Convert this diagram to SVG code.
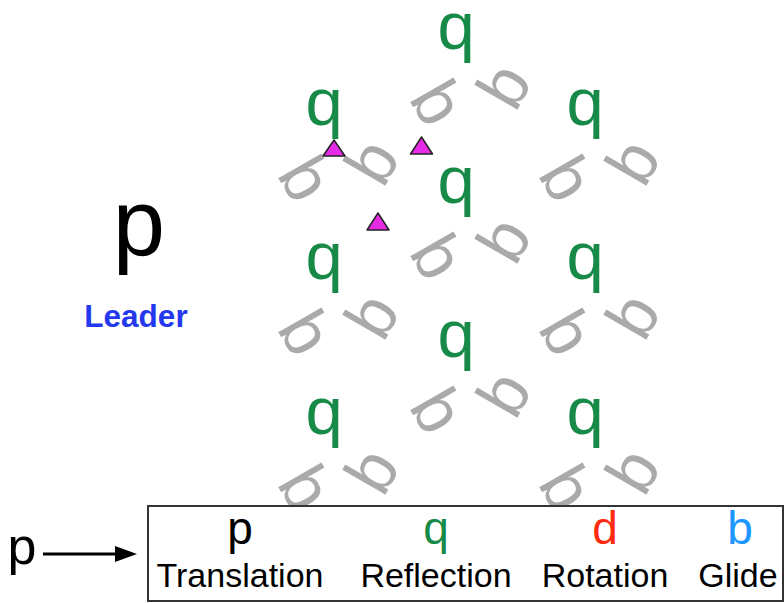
<svg xmlns="http://www.w3.org/2000/svg" width="784" height="603" viewBox="0 0 784 603">
  <defs>
    <style>
      .g { font-family: "Liberation Sans", Arial, sans-serif; font-size: 67px; text-anchor: middle; }
      .green { fill: #178a48; }
      .gray { fill: #aaaaaa; }
      .tri { fill: #e62be6; stroke: #222222; stroke-width: 1.5; stroke-linejoin: round; }
      .word { font-family: "Liberation Sans", Arial, sans-serif; font-size: 34px; text-anchor: middle; fill: #000000; }
      .sym { font-family: "Liberation Sans", Arial, sans-serif; font-size: 46px; text-anchor: middle; }
    </style>
  </defs>
  <rect width="784" height="603" fill="#ffffff"/>

  <g id="leader">
    <text x="139" y="255" font-family="Liberation Sans, Arial, sans-serif" font-size="94" text-anchor="middle" fill="#000000">p</text>
    <text x="136" y="327" font-family="Liberation Sans, Arial, sans-serif" font-size="31.5" font-weight="bold" text-anchor="middle" fill="#2438f0">Leader</text>
  </g>

  <g id="motif-c1r1" transform="translate(324,125)">
    <text class="g gray" transform="rotate(-120 10 26)">q</text>
    <text class="g gray" transform="rotate(120 10 26)">q</text>
    <text class="g green">q</text>
  </g>
  <g id="motif-c1r2" transform="translate(324,279)">
    <text class="g gray" transform="rotate(-120 10 26)">q</text>
    <text class="g gray" transform="rotate(120 10 26)">q</text>
    <text class="g green">q</text>
  </g>
  <g id="motif-c1r3" transform="translate(324,434)">
    <text class="g gray" transform="rotate(-120 10 26)">q</text>
    <text class="g gray" transform="rotate(120 10 26)">q</text>
    <text class="g green">q</text>
  </g>
  <g id="motif-c2r1" transform="translate(456,49)">
    <text class="g gray" transform="rotate(-120 10 26)">q</text>
    <text class="g gray" transform="rotate(120 10 26)">q</text>
    <text class="g green">q</text>
  </g>
  <g id="motif-c2r2" transform="translate(456,203)">
    <text class="g gray" transform="rotate(-120 10 26)">q</text>
    <text class="g gray" transform="rotate(120 10 26)">q</text>
    <text class="g green">q</text>
  </g>
  <g id="motif-c2r3" transform="translate(456,357)">
    <text class="g gray" transform="rotate(-120 10 26)">q</text>
    <text class="g gray" transform="rotate(120 10 26)">q</text>
    <text class="g green">q</text>
  </g>
  <g id="motif-c3r1" transform="translate(585,125)">
    <text class="g gray" transform="rotate(-120 10 26)">q</text>
    <text class="g gray" transform="rotate(120 10 26)">q</text>
    <text class="g green">q</text>
  </g>
  <g id="motif-c3r2" transform="translate(585,279)">
    <text class="g gray" transform="rotate(-120 10 26)">q</text>
    <text class="g gray" transform="rotate(120 10 26)">q</text>
    <text class="g green">q</text>
  </g>
  <g id="motif-c3r3" transform="translate(585,434)">
    <text class="g gray" transform="rotate(-120 10 26)">q</text>
    <text class="g gray" transform="rotate(120 10 26)">q</text>
    <text class="g green">q</text>
  </g>

  <g id="rotation-centers">
    <polygon class="tri" points="323,156 345,156 334,140"/>
    <polygon class="tri" points="410.5,154 432.5,154 421.5,137"/>
    <polygon class="tri" points="367,230 389,230 378,213"/>
  </g>

  <g id="legend">
    <rect x="148" y="506" width="635" height="95" fill="#ffffff" stroke="#333333" stroke-width="2"/>
    <text class="sym" x="240" y="544" fill="#000000">p</text>
    <text class="sym" x="436" y="544" fill="#178a48">q</text>
    <text class="sym" x="605" y="544" fill="#ff2a10">d</text>
    <text class="sym" x="740" y="544" fill="#1e96ff">b</text>
    <text class="word" x="240" y="587">Translation</text>
    <text class="word" x="436" y="587">Reflection</text>
    <text class="word" x="605" y="587">Rotation</text>
    <text class="word" x="738" y="587">Glide</text>
  </g>

  <g id="input">
    <text x="22" y="564" font-family="Liberation Sans, Arial, sans-serif" font-size="52" text-anchor="middle" fill="#000000">p</text>
  </g>

  <g id="connectors">
    <line x1="43" y1="554" x2="118" y2="554" stroke="#000000" stroke-width="3"/>
    <polygon points="115,546 137,554 115,562" fill="#000000"/>
  </g>
</svg>
